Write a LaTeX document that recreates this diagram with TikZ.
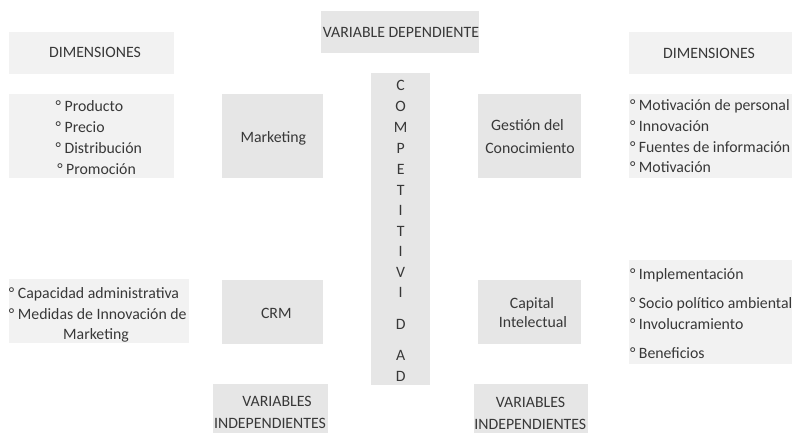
\documentclass[tikz,border=0pt]{standalone}
\usepackage{fontspec}
\setmainfont{Carlito}
\definecolor{boxlight}{HTML}{F2F2F2}
\definecolor{boxdark}{HTML}{E6E6E6}
\definecolor{txtgray}{HTML}{383838}
\begin{document}
\begin{tikzpicture}[x=1pt,y=-1pt,
  box/.style={draw=none,inner sep=0pt,outer sep=0pt,anchor=north west},
  lightbox/.style={box,fill=boxlight},
  darkbox/.style={box,fill=boxdark},
  txt/.style={text=txtgray,inner sep=0pt,outer sep=0pt,font=\fontsize{15.8}{19}\selectfont},
  ctxt/.style={txt,anchor=base},
  ltxt/.style={txt,anchor=base west}]
\useasboundingbox (0,0) rectangle (792,433);

% ---- boxes ----
\node[lightbox,minimum width=165pt,minimum height=42.3pt] (dimLbox) at (9,31.7) {};
\node[lightbox,minimum width=165pt,minimum height=83.7pt] (listLbox) at (9,94) {};
\node[darkbox,minimum width=101pt,minimum height=83.7pt] (mktbox) at (221.7,94) {};
\node[darkbox,minimum width=158.3pt,minimum height=42.3pt] (vdbox) at (321,11) {};
\node[darkbox,minimum width=59pt,minimum height=312pt] (colbox) at (371,73) {};
\node[darkbox,minimum width=102.7pt,minimum height=83.7pt] (gesbox) at (478.3,94) {};
\node[lightbox,minimum width=162.7pt,minimum height=42.3pt] (dimRbox) at (629.3,31.7) {};
\node[lightbox,minimum width=162.7pt,minimum height=83.7pt] (listRbox) at (629.3,94) {};
\node[lightbox,minimum width=179.7pt,minimum height=63.7pt] (listLBbox) at (9,279) {};
\node[darkbox,minimum width=101pt,minimum height=64pt] (crmbox) at (221.7,280) {};
\node[darkbox,minimum width=102.7pt,minimum height=64pt] (capbox) at (478.3,280) {};
\node[lightbox,minimum width=162.7pt,minimum height=104.3pt] (listRBbox) at (629.3,260) {};
\node[darkbox,minimum width=114.4pt,minimum height=48.7pt] (viLbox) at (213.3,384.3) {};
\node[darkbox,minimum width=113.7pt,minimum height=48.7pt] (viRbox) at (474,384.3) {};

% ---- texts ----
\node[ctxt] (dimL) at (95,57.3) {DIMENSIONES};
\node[ctxt] (dimR) at (709,58.3) {DIMENSIONES};
\node[ctxt] (vd) at (401,37.7) {VARIABLE DEPENDIENTE};

\node[ltxt] (l1) at (55.7,111.7) {° Producto};
\node[ltxt] (l2) at (55.7,132.3) {° Precio};
\node[ltxt] (l3) at (55.7,153.3) {° Distribución};
\node[ltxt] (l4) at (57.3,174.3) {° Promoción};

\node[ctxt] (mkt) at (273.3,142.7) {Marketing};
\node[ctxt] (ges1) at (527.5,130.7) {Gestión del};
\node[ctxt] (ges2) at (530,153.3) {Conocimiento};

\node[ltxt] (r1) at (630,111) {° Motivación de personal};
\node[ltxt] (r2) at (630,131.5) {° Innovación};
\node[ltxt] (r3) at (630,152.7) {° Fuentes de información};
\node[ltxt] (r4) at (630,172.3) {° Motivación};

\node[ltxt] (lb1) at (9,298.3) {° Capacidad administrativa};
\node[ltxt] (lb2) at (9,319.3) {° Medidas de Innovación de};
\node[ctxt] (lb3) at (96,339.3) {Marketing};

\node[ctxt] (crm) at (276.3,318.3) {CRM};
\node[ctxt] (cap1) at (532,308.7) {Capital};
\node[ctxt] (cap2) at (533,327.7) {Intelectual};

\node[ltxt] (rb1) at (630,279.3) {° Implementación};
\node[ltxt] (rb2) at (630,308.7) {° Socio político ambiental};
\node[ltxt] (rb3) at (630,329.3) {° Involucramiento};
\node[ltxt] (rb4) at (630,358.3) {° Beneficios};

\node[ctxt] (viL1) at (277,406.7) {VARIABLES};
\node[ctxt] (viL2) at (270,428.3) {INDEPENDIENTES};
\node[ctxt] (viR1) at (530.5,407.3) {VARIABLES};
\node[ctxt] (viR2) at (530.3,429.3) {INDEPENDIENTES};

% ---- vertical word ----
\foreach \l/\yy [count=\i] in {C/90.7,O/111.7,M/132,P/153.3,E/174.3,T/195,I/215,T/236.7,I/256.7,V/277.3,I/297.3,D/329.3,A/360,D/381.7}
  \node[ctxt] (col\i) at (400.7,\yy) {\l};
\end{tikzpicture}
\end{document}
